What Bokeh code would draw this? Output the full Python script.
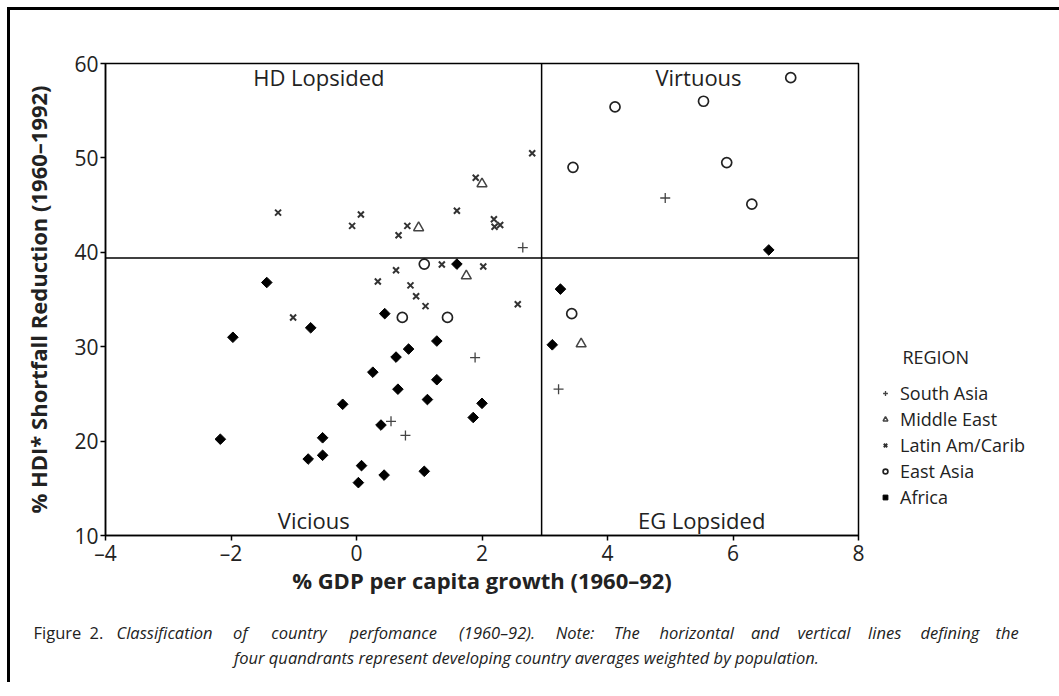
from bokeh.plotting import figure
from bokeh.layouts import column
from bokeh.models import Span, Label, Legend, LegendItem, FixedTicker
from bokeh.embed import file_html
from bokeh.resources import INLINE

# ---------------- data ----------------
x_ticks = [-4, -2, 0, 2, 4, 6, 8]
x_tick_labels = ["\u20134", "\u20132", "0", "2", "4", "6", "8"]
y_ticks = [10, 20, 30, 40, 50, 60]

avg_growth = 2.95
avg_hdi = 39.4

south_asia_x = [2.65, 1.89, 0.55, 0.78, 3.22, 4.92]
south_asia_y = [40.5, 28.85, 22.1, 20.6, 25.5, 45.75]

middle_east_x = [2.0, 0.99, 1.75, 3.58]
middle_east_y = [47.25, 42.6, 37.5, 30.3]

latin_x = [2.80, 1.90, 0.07, -0.07, 0.81, 0.67, 1.60, 2.19, 2.29, 2.20,
           1.36, 2.02, 0.63, 0.34, 0.86, 0.95, 1.10, 2.57, -1.01, -1.25]
latin_y = [50.5, 47.9, 44.0, 42.8, 42.8, 41.8, 44.4, 43.5, 42.9, 42.7,
           38.7, 38.5, 38.1, 36.9, 36.5, 35.35, 34.3, 34.5, 33.1, 44.2]

east_asia_x = [1.08, 0.73, 1.45, 3.43, 3.45, 4.12, 5.53, 5.90, 6.30, 6.92]
east_asia_y = [38.75, 33.1, 33.1, 33.5, 49.0, 55.4, 56.0, 49.5, 45.1, 58.5]

africa_x = [-1.43, -1.97, -0.73, 0.45, 0.63, 0.26, 0.66, -0.22, 0.39, -2.17,
            -0.54, -0.77, -0.54, 0.08, 0.03, 0.44, 1.08, 1.60, 1.28, 0.83,
            1.28, 1.13, 2.0, 1.86, 3.25, 3.12, 6.57]
africa_y = [36.8, 31.0, 32.0, 33.5, 28.9, 27.3, 25.5, 23.9, 21.7, 20.2,
            20.35, 18.1, 18.5, 17.4, 15.6, 16.4, 16.8, 38.75, 30.6, 29.75,
            26.5, 24.4, 24.0, 22.5, 36.1, 30.2, 40.25]

quadrant_names = ["HD Lopsided", "Virtuous", "Vicious", "EG Lopsided"]
quadrant_x = [-0.6, 5.45, -0.68, 5.5]
quadrant_y = [58.6, 58.6, 11.6, 11.6]

legend_title = "REGION"
region_names = ["South Asia", "Middle East", "Latin Am/Carib", "East Asia", "Africa"]

# caption (first line is justified in the reference: words set individually)
caption_lead_words = ["Figure", "2."]
caption_line1_words = ["Classification", "of", "country", "perfomance", "(1960\u201392).",
                       "Note:", "The", "horizontal", "and", "vertical", "lines",
                       "defining", "the"]
caption_line2 = "four quandrants represent developing country averages weighted by population."

# layout positions of the caption words (px from the caption panel's left edge)
lead_pos = [23, 79]
line1_pos = [106, 222.6, 260.8, 338.9, 448.6, 545.2, 603.2, 648.9, 740.5, 787.0,
             857.6, 910.0, 985.0]

FONT = "Open Sans"
TXT = "#222222"
CAP_SIZE = "16.5px"

p = figure(frame_width=750, frame_height=469, x_range=(-4, 8), y_range=(10, 60),
           output_backend="svg", toolbar_location=None,
           min_border_left=95, min_border_right=203, min_border_top=53,
           min_border_bottom=70)
p.styles = {"border-top": "3px solid black", "border-left": "3px solid black"}
p.frame_align = False

p.grid.visible = False
p.outline_line_color = "black"
p.outline_line_width = 1.5
p.outline_line_alpha = 1.0
p.background_fill_color = "white"
p.border_fill_color = "white"

for ax in (p.xaxis[0], p.yaxis[0]):
    ax.axis_line_color = "black"
    ax.axis_line_width = 1.5
    ax.major_tick_line_color = "black"
    ax.major_tick_line_width = 1.5
    ax.major_tick_out = 5
    ax.major_tick_in = 0
    ax.minor_tick_line_color = None
    ax.major_label_text_font = FONT
    ax.major_label_text_font_size = "21px"
    ax.major_label_text_color = TXT
    ax.axis_label_text_font = FONT
    ax.axis_label_text_font_size = "22px"
    ax.axis_label_text_font_style = "bold"
    ax.axis_label_text_color = TXT

p.xaxis.ticker = FixedTicker(ticks=x_ticks)
p.xaxis.major_label_overrides = {t: l for t, l in zip(x_ticks, x_tick_labels)}
p.yaxis.ticker = FixedTicker(ticks=y_ticks)
p.xaxis.axis_label = "% GDP per capita growth (1960\u201392)"
p.yaxis.axis_label = "% HDI* Shortfall Reduction (1960\u20131992)"
p.xaxis.major_label_standoff = -2
p.yaxis.major_label_standoff = 2
p.xaxis.axis_label_standoff = -5
p.yaxis.axis_label_standoff = 18

p.add_layout(Span(location=avg_growth, dimension="height", line_color="black", line_width=1.5))
p.add_layout(Span(location=avg_hdi, dimension="width", line_color="black", line_width=1.5))

r_sa = p.scatter(south_asia_x, south_asia_y, marker="cross", size=10,
                 line_color="#444444", line_width=1.3)
r_me = p.scatter(middle_east_x, middle_east_y, marker="triangle", size=10,
                 fill_color=None, line_color="#444444", line_width=1.5)
r_la = p.scatter(latin_x, latin_y, marker="x", size=8.5,
                 line_color="#333333", line_width=2)
r_ea = p.scatter(east_asia_x, east_asia_y, marker="circle", size=10,
                 fill_color=None, line_color="#222222", line_width=1.7)
r_af = p.scatter(africa_x, africa_y, marker="square", size=7.5, angle=0.785398,
                 fill_color="black", line_color="black", line_width=1)

for name, qx, qy in zip(quadrant_names, quadrant_x, quadrant_y):
    p.add_layout(Label(x=qx, y=qy, text=name, text_font=FONT, text_font_size="22px",
                       text_color=TXT, text_align="center", text_baseline="middle"))

legend = Legend(items=[LegendItem(label=n, renderers=[r]) for n, r in
                       zip(region_names, [r_sa, r_me, r_la, r_ea, r_af])],
                location=(21, 26), title="\u00a0" * 5 + legend_title,
                title_text_font=FONT, title_text_font_size="18px",
                title_text_font_style="normal", title_text_color=TXT, title_standoff=12,
                label_text_font=FONT, label_text_font_size="18px",
                label_text_color=TXT, glyph_width=12, glyph_height=20, label_height=20,
                label_standoff=9, spacing=2, padding=8, border_line_color=None,
                background_fill_alpha=0)
p.add_layout(legend, "right")

# caption panel
cap = figure(frame_width=1048, frame_height=80, x_range=(0, 1), y_range=(0, 1),
             output_backend="svg", toolbar_location=None,
             x_axis_location=None, y_axis_location=None, min_border=0,
             min_border_left=0, min_border_right=0, min_border_top=0, min_border_bottom=0)
cap.frame_align = False
cap.styles = {"border-left": "3px solid black"}
cap.grid.visible = False
cap.outline_line_color = None
cap.background_fill_color = "white"
cap.border_fill_color = "white"

for w, xp in zip(caption_lead_words, lead_pos):
    cap.add_layout(Label(x=xp, y=50, x_units="screen", y_units="screen", text=w,
                         text_font=FONT, text_font_size=CAP_SIZE, text_color=TXT,
                         text_align="left", text_baseline="middle"))
for w, xp in zip(caption_line1_words, line1_pos):
    cap.add_layout(Label(x=xp, y=50, x_units="screen", y_units="screen", text=w,
                         text_font=FONT, text_font_size=CAP_SIZE, text_font_style="italic",
                         text_color=TXT, text_align="left", text_baseline="middle"))
cap.add_layout(Label(x=516, y=25, x_units="screen", y_units="screen", text=caption_line2,
                     text_font=FONT, text_font_size=CAP_SIZE, text_font_style="italic",
                     text_color=TXT, text_align="center", text_baseline="middle"))

root = column(p, cap, spacing=0)
root.styles = {"margin-left": "7px", "margin-top": "7px"}

open("out.html", "w").write(file_html(root, INLINE))
